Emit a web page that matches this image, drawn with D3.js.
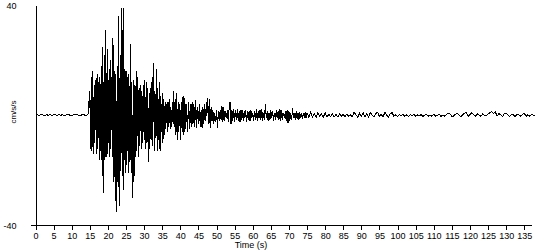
<!DOCTYPE html>
<html>
<head>
<meta charset="utf-8">
<script src="https://cdn.jsdelivr.net/npm/d3@7"></script>
<style>
  body { margin: 0; background: #fff; }
  svg { display: block; font-family: "Liberation Sans", Arial, sans-serif; }
</style>
</head>
<body>
<div id="my_dataviz"></div>
<script>
// acceleration record, cm/s/s in pieces (start time, sample step in s)
const preEvent = [0.1, 0.3, 0, 0.4, 0.2, 0, 0.3, 0.1, 0.4, 0, 0.2, 0.3, 0, 0.4, 0.1,
                  0.3, 0, 0.2, 0.4, 0.1, 0, 0.3, 0.2, 0.4, 0, 0.1, 0.3, 0.2, 0, 0.3];
const preEventStart = 0, preEventStep = 0.5;

const strongMotion = [
  9, -12, 14, -13, 16, -14, 11, -10, 13, -14,
  15, -12, 12, -16, 14, -13, 18, -22, 25, -28,
  22, -16, 31, -15, 24, -14, 13, -15, 20, -12,
  14, -15, 28, -24, 16, -31, 15, -35, 18, -26,
  36, -33, 22, -20, 39, -22, 39, -27, 17, -21,
  16, -18, 14, -21, 15, -17, 26, -21, 12, -30,
  13, -24, 11, -15, 16, -13, 14, -15, 10, -11,
  11, -12, 9, -10, 11, -9, 13, -12, 12, -10,
  10, -17, 8, -12, 10, -9, 14, -11, 19, -13,
  9, -8, 17, -13, 10, -9, 12, -13, 7, -6,
  8, -10, 6, -7, 5, -5, 4, -6, 5, -4,
  6, -5, 3, -4, 5, -3, 9, -4, 6, -7,
  8, -9, 5, -6, 4];
const strongStart = 15, strongStep = 0.2;

const coda = [
  -9, 5, -6, 7,   -7, 6.5, -5, 4,   -6, 5, -5, 4,   -4, 5, -3, 4,
  -4, 5.5, -4.5, 3,   -3, 4, -4, 2,   -4.5, 3, -3, 4,   -2, 3, 6.5, -3,
  6, -4.5, 3, -2,   2, -3, 1, -2.5,   2, -4.5, 1.5, -2,   2, -1.5, 3.5, -2.5,
  3, -2, 1.5, -1,   2, -2.5, 3, 5,   -3, 2, -2, 2.5,   -2.5, 2, -1.5, 2.5,
  -2, 1.5, -2.5, 2,   -1.5, 2, -2, 1,   2, -2.5, 1.5, -1.5,   1.5, -2, 1.8, -1,
  1, -2, 1.5, -1.5,   2.5, -2, 1.5, -1,   2, -1.5, 2.5, -2,   1, -1.5, 4.3, -1,
  1.5, -2, 1, -1.5,   1.8, -1, 1.5, -2,   1, -1.5, 1.8, -1,   1.5, -1.5, 2.5, -2,
  2, -1.5, 1, -1,   1.5, -2, 2, -2.7,   1.5, -2, 1, -1.5,   2.7, -1, 1, -1.5,
  1.5, -1.2, 1, -1.5,   1.2, -1, 0.8, -1.2,   1, -0.8, 1.2, -1];
const codaStart = 40, codaStep = 0.25;

const tail = [
  1, -0.7, 1.2, -0.5, 0.8, -0.7, 1.1, -0.4, 0.6, -0.6,
  1, -0.5, 0.4, -0.3, 0.5, -0.4, 0.3, -0.5, 0.6, -0.2,
  0.4, -0.4, 0.5, -0.3, 0.2, -0.4, 1.2, 0.3, -0.6, 0.8,
  -0.3, 1, -0.5, 0.6, -0.6, 1.1, 0.2, -0.5, 0.7, 1.2,
  -0.4, 0.5, -0.6, 1.2, 0.1, -0.5, 0.6, 1.1, -0.3, 0.2,
  -0.4, 0.3, -0.2, 0.4, -0.3, 0.2, -0.4, 0.3, 0, 0.4,
  -0.3, 0.2, -0.2, 0.3, -0.4, 0.1, 0.3, -0.2, 0.2, -0.3,
  0.4, -0.2, 0.1, 0.5, -0.3, 0.2, -0.2, 0.3, 0.9, 0.6,
  -0.4, -0.2, 0.5, 0.8, 0.2, -0.5, 0.3, 0.9, 1, -0.3,
  0.4, 1, 0.3, -0.4, 0.6, 0.2, -0.3, 0.5, 0.1, -0.2,
  0.6, 1, 1.5, 0.8, 1.3, -0.2, 0.7, 0.3, -0.4, 0.6,
  0.8, 0.1, -0.3, 0.5, 0.2, -0.4, 0.6, 0.3, -0.2, 0.4,
  0.8, -0.3, 0.3, -0.2, 0.4, 0.1, -0.2];
const tailStart = 75, tailStep = 0.5;

const xTicks = d3.range(0, 136, 5);
const yTicks = [-40, 40];

const width = 550, height = 250;

const segments = [
  [preEvent, preEventStart, preEventStep],
  [strongMotion, strongStart, strongStep],
  [coda, codaStart, codaStep],
  [tail, tailStart, tailStep]
];
let data = [];
segments.forEach(function(s) {
  s[0].forEach(function(v, i) { data.push({time: s[1] + i * s[2], value: v}); });
});

const svg = d3.select("#my_dataviz")
  .append("svg")
  .attr("width", width)
  .attr("height", height);

const x = d3.scaleLinear().domain([0, 137]).range([35.5, 531.5]);
const y = d3.scaleLinear().domain([-40, 40]).range([225.5, 5.5]);

// x axis
const xAxis = svg.append("g")
  .attr("transform", `translate(0, ${y(-40)})`)
  .call(d3.axisBottom(x).tickValues(xTicks).tickSize(4).tickSizeOuter(0).tickPadding(3));
xAxis.select(".domain").remove();
xAxis.append("line")
  .attr("x1", x(0) - 5).attr("x2", x(137))
  .attr("stroke", "#000");

// y axis, plain hyphen for the minus like the original
const yAxis = svg.append("g")
  .attr("transform", `translate(${x(0)}, 0)`)
  .call(d3.axisLeft(y).tickValues(yTicks).tickSize(0).tickSizeOuter(0).tickPadding(19)
    .tickFormat(function(d) { return String(d); }));

svg.selectAll(".tick text").attr("font-size", 9).attr("font-family", "Liberation Sans, Arial, sans-serif").attr("fill", "#000");
svg.selectAll(".domain, .tick line, line").attr("shape-rendering", "crispEdges");

svg.append("path")
  .datum(data)
  .attr("fill", "none")
  .attr("stroke", "#000")
  .attr("stroke-width", 1)
  .attr("shape-rendering", "crispEdges")
  .attr("d", d3.line()
    .x(function(d) { return x(d.time) })
    .y(function(d) { return y(d.value) })
  );

svg.append("text")
  .attr("x", 251)
  .attr("y", 248)
  .attr("text-anchor", "middle")
  .attr("font-size", 9)
  .text("Time (s)");

svg.append("text")
  .attr("transform", "translate(16, 112) rotate(-90)")
  .attr("text-anchor", "middle")
  .attr("font-size", 8)
  .text("cm/s/s");
</script>
</body>
</html>
